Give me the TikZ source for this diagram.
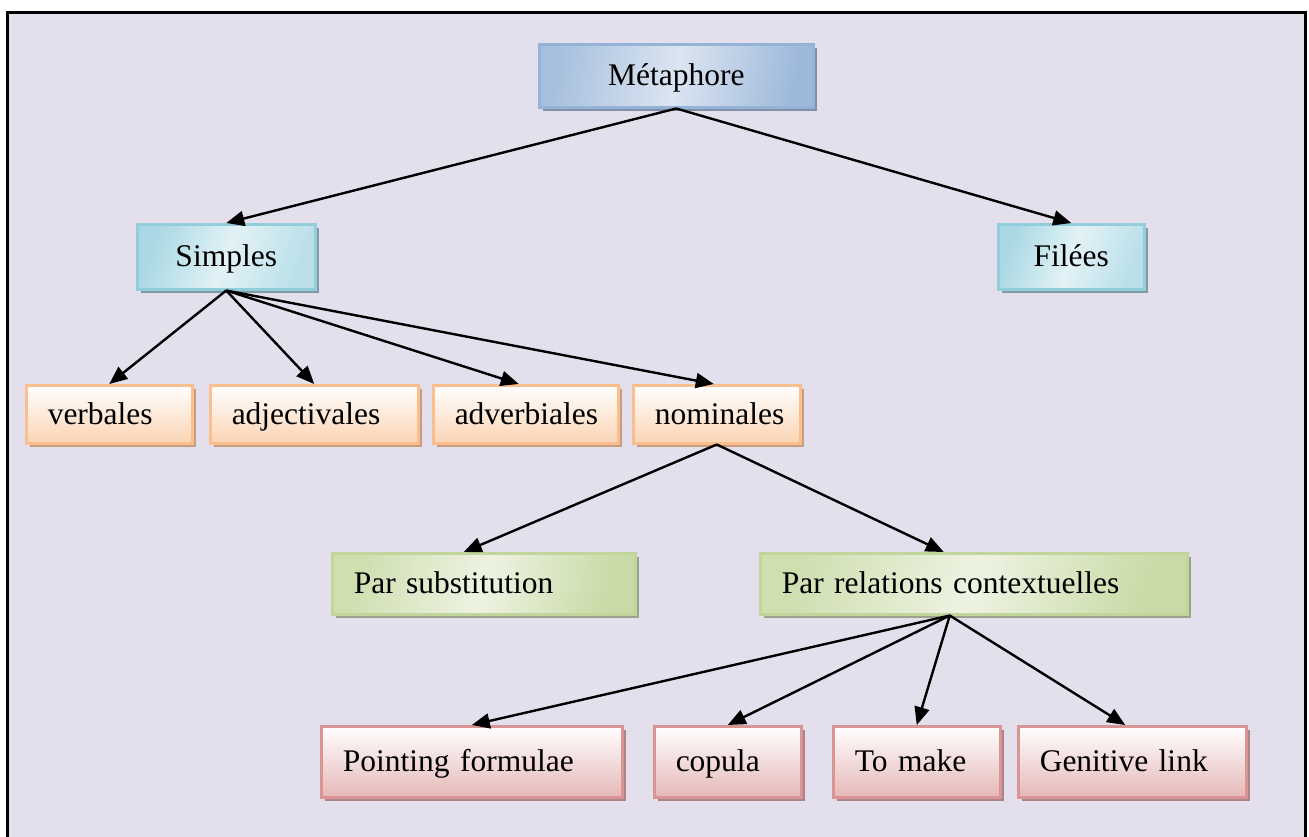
\documentclass[tikz,border=0pt]{standalone}
\usepackage{fontspec}
\setmainfont{Liberation Serif}
\usetikzlibrary{arrows.meta,shadows}
\definecolor{bgc}{HTML}{E4DFEC}
\definecolor{blueD}{HTML}{95B3D7}
\definecolor{blueL}{HTML}{DBE5F1}
\definecolor{blueS}{HTML}{8190A8}
\definecolor{tealD}{HTML}{92CDDC}
\definecolor{tealL}{HTML}{E2F2F6}
\definecolor{tealS}{HTML}{7F9CA6}
\definecolor{orD}{HTML}{FABF8F}
\definecolor{orL}{HTML}{FBD4B4}
\definecolor{orS}{HTML}{C99C7E}
\definecolor{grD}{HTML}{C2D69B}
\definecolor{grL}{HTML}{EDF3E2}
\definecolor{grS}{HTML}{9CA38C}
\definecolor{rdD}{HTML}{D99594}
\definecolor{rdL}{HTML}{E5B8B7}
\definecolor{rdS}{HTML}{AE8388}
\tikzset{
  txt/.style={font=\fontsize{31.5}{36}\selectfont, text=black, anchor=north west, line width=2.5pt,
     inner ysep=0pt, text height=24pt, text depth=4pt},
  cbox/.style={txt, align=center, inner xsep=0pt},
  lbox/.style={txt, align=left, inner xsep=21.5pt},
  bluebox/.style={draw=blueD, left color=blueD!75!blueL, right color=blueD!90!blueL, middle color=blueL, shading angle=80,
     drop shadow={shadow xshift=4pt, shadow yshift=-4pt, fill=blueS, opacity=1}},
  tealbox/.style={draw=tealD, left color=tealD!70!tealL, right color=tealD!50!tealL, middle color=tealL, shading angle=70,
     drop shadow={shadow xshift=4pt, shadow yshift=-4pt, fill=tealS, opacity=1}},
  orbox/.style={draw=orD, top color=white, bottom color=orL,
     drop shadow={shadow xshift=4pt, shadow yshift=-4pt, fill=orS, opacity=1}},
  grbox/.style={draw=grD, left color=grD!70!grL, right color=grD!85!grL, middle color=grL, shading angle=75,
     drop shadow={shadow xshift=4pt, shadow yshift=-4pt, fill=grS, opacity=1}},
  rdbox/.style={draw=rdD, top color=white, bottom color=rdL,
     drop shadow={shadow xshift=4pt, shadow yshift=-4pt, fill=rdS, opacity=1}},
  arr/.style={draw=black, line width=2.4pt, -{Triangle[length=18pt,width=15pt]}},
}
\begin{document}
\begin{tikzpicture}[x=1pt,y=-1pt]
\useasboundingbox (0,0) rectangle (1309,836);
\fill[white] (0,0) rectangle (1309,836);
\draw[fill=bgc, line width=3pt] (7,12) rectangle (1305,860);

\node[cbox, bluebox, minimum width=274pt, minimum height=63pt] (met) at (538,43) {Métaphore};
\node[cbox, tealbox, minimum width=178pt, minimum height=65pt] (sim) at (136,223) {Simples};
\node[cbox, tealbox, minimum width=146pt, minimum height=65pt] (fil) at (997,223) {Filées};

\node[lbox, orbox, text width=123pt, minimum height=58pt] (verb) at (25,384) {verbales};
\node[lbox, orbox, text width=165pt, minimum height=58pt] (adj) at (209,384) {adjectivales};
\node[lbox, orbox, text width=142pt, minimum height=58pt] (adv) at (432,384) {adverbiales};
\node[lbox, orbox, text width=124pt, minimum height=58pt] (nom) at (632,384) {nominales};

\node[lbox, grbox, text width=260pt, minimum height=61pt] (sub) at (331,552) {Par substitution};
\node[lbox, grbox, text width=384pt, minimum height=61pt] (rel) at (759,552) {Par relations contextuelles};

\node[lbox, rdbox, text width=258pt, minimum height=71pt] (poi) at (320,725) {Pointing formulae};
\node[lbox, rdbox, text width=104pt, minimum height=71pt] (cop) at (653,725) {copula};
\node[lbox, rdbox, text width=124pt, minimum height=71pt] (mak) at (832,725) {To make};
\node[lbox, rdbox, text width=185pt, minimum height=71pt] (gen) at (1017,725) {Genitive link};

\draw[arr] (met.south) -- (sim.north);
\draw[arr] (met.south) -- (fil.north);
\draw[arr] (sim.south) -- (verb.north);
\draw[arr] (sim.south) -- (adj.north);
\draw[arr] (sim.south) -- ([xshift=-7pt]adv.north);
\draw[arr] (sim.south) -- ([xshift=-3pt]nom.north);
\draw[arr] (nom.south) -- ([xshift=-20pt]sub.north);
\draw[arr] (nom.south) -- ([xshift=-30pt]rel.north);
\coordinate (rs) at ([xshift=-24pt]rel.south);
\draw[arr] (rs) -- (poi.north);
\draw[arr] (rs) -- (cop.north);
\draw[arr] (rs) -- (mak.north);
\draw[arr] (rs) -- ([xshift=-7pt]gen.north);
\end{tikzpicture}
\end{document}
